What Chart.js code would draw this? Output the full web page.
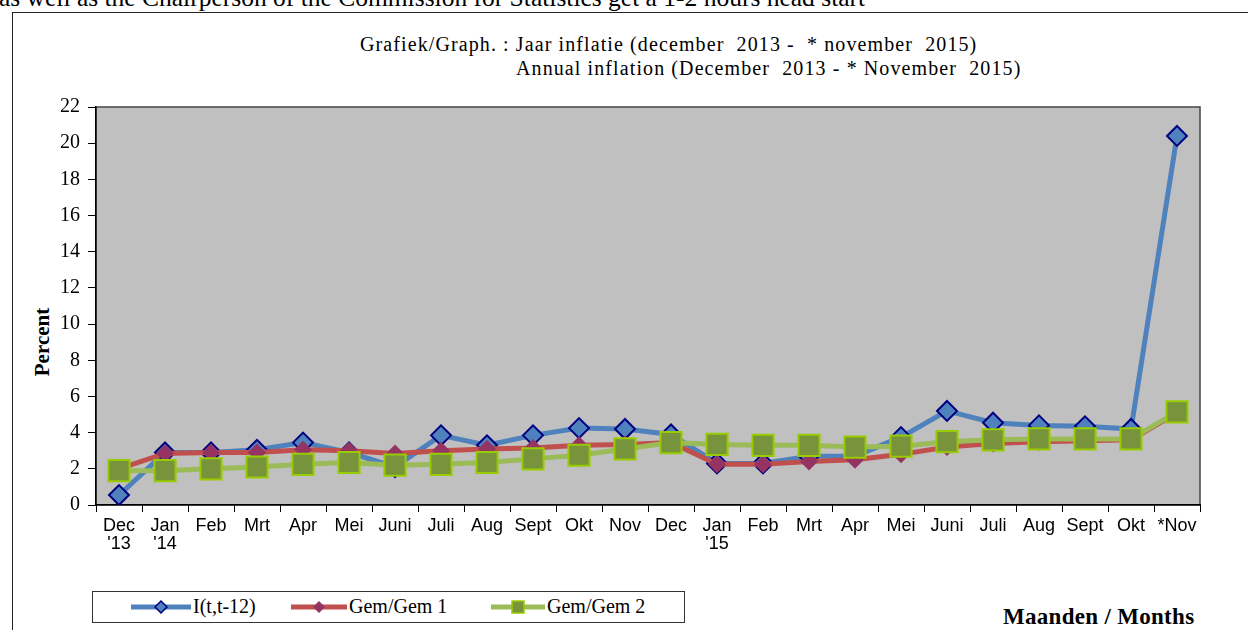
<!DOCTYPE html>
<html>
<head>
<meta charset="utf-8">
<script src="https://cdn.jsdelivr.net/npm/chart.js@4"></script>
<style>
  body { margin: 0; width: 1248px; height: 630px; overflow: hidden; background: #fff; position: relative; font-family: "Liberation Serif", serif; }
  #topline { position: absolute; left: -1px; top: -17px; font-size: 25.5px; white-space: nowrap; color: #000; }
  #frame { position: absolute; left: 12px; top: 12px; width: 1250px; height: 640px; border: 1.5px solid #222; }
  .title { position: absolute; font-size: 20px; letter-spacing: 1.1px; white-space: nowrap; color: #000; }
  #ylabel { position: absolute; left: 42px; top: 342px; transform: translate(-50%, -50%) rotate(-90deg); font-size: 21px; font-weight: bold; }
  #xlabel { position: absolute; left: 1003px; top: 604px; font-size: 23px; font-weight: bold; white-space: nowrap; letter-spacing: 0.3px; }
  #legend { position: absolute; left: 92px; top: 591px; width: 591px; height: 30px; border: 1px solid #333; background: #fff; }
  .item { position: absolute; top: 3px; font-size: 20px; white-space: nowrap; display: flex; align-items: center; }
  canvas { position: absolute; left: 0; top: 0; }
</style>
</head>
<body>
<div id="topline">as well as the Chairperson of the Commission for Statistics get a 1-2 hours head start</div>
<div id="frame"></div>
<div class="title" style="left:360px; top:33px;">Grafiek/Graph. : Jaar inflatie (december&nbsp; 2013 -&nbsp; * november&nbsp; 2015)</div>
<div class="title" style="left:516px; top:57px;">Annual inflation (December&nbsp; 2013 - * November&nbsp; 2015)</div>
<div id="ylabel">Percent</div>
<div id="xlabel">Maanden / Months</div>
<canvas id="chart" width="1248" height="630"></canvas>
<div id="legend">
  <div class="item" style="left:36px;">
    <svg width="64" height="20"><line x1="2" y1="10" x2="62" y2="10" stroke="#4F81BD" stroke-width="5"/><polygon points="32,4 38,10 32,16 26,10" fill="#4F81BD" stroke="#000080" stroke-width="1.5"/></svg>I(t,t-12)
  </div>
  <div class="item" style="left:196px;">
    <svg width="60" height="20"><line x1="2" y1="10" x2="58" y2="10" stroke="#C0504D" stroke-width="5"/><polygon points="30,4 36,10 30,16 24,10" fill="#953463"/></svg>Gem/Gem 1
  </div>
  <div class="item" style="left:396px;">
    <svg width="58" height="20"><line x1="2" y1="10" x2="56" y2="10" stroke="#9BBB59" stroke-width="5"/><rect x="23" y="4" width="12" height="12" fill="#77933C" stroke="#99CC00" stroke-width="1.5"/></svg>Gem/Gem 2
  </div>
</div>
<script>
const months = [['Dec', "'13"], ['Jan', "'14"], 'Feb', 'Mrt', 'Apr', 'Mei', 'Juni', 'Juli', 'Aug', 'Sept', 'Okt', 'Nov', 'Dec',
  ['Jan', "'15"], 'Feb', 'Mrt', 'Apr', 'Mei', 'Juni', 'Juli', 'Aug', 'Sept', 'Okt', '*Nov'];
const yTicks = [0, 2, 4, 6, 8, 10, 12, 14, 16, 18, 20, 22];

const inflation = [0.55, 2.9, 2.9, 3.05, 3.45, 2.9, 2.1, 3.85, 3.3, 3.85, 4.25, 4.2, 3.9,
  2.3, 2.3, 2.7, 2.7, 3.75, 5.2, 4.55, 4.4, 4.35, 4.2, 20.4];
const gemGem1 = [2.0, 2.85, 2.9, 2.9, 3.05, 3.0, 2.85, 3.0, 3.1, 3.15, 3.3, 3.35, 3.45,
  2.25, 2.25, 2.4, 2.5, 2.8, 3.2, 3.4, 3.5, 3.55, 3.6, 5.1];
const gemGem2 = [1.9, 1.9, 2.0, 2.1, 2.25, 2.35, 2.2, 2.25, 2.35, 2.55, 2.75, 3.1, 3.45,
  3.35, 3.3, 3.3, 3.2, 3.25, 3.5, 3.6, 3.65, 3.65, 3.65, 5.15];

// grey plot background + border
const plotBg = {
    id: 'plotBg',
    beforeDraw(chart) {
        const { ctx, chartArea: a } = chart;
        ctx.save();
        ctx.fillStyle = '#C0C0C0';
        ctx.fillRect(a.left, a.top, a.right - a.left, a.bottom - a.top);
        ctx.strokeStyle = '#444';
        ctx.lineWidth = 1.5;
        ctx.strokeRect(a.left, a.top, a.right - a.left, a.bottom - a.top);
        ctx.restore();
    }
};

new Chart(document.getElementById('chart').getContext('2d'), {
    type: 'line',
    data: {
        labels: months,
        datasets: [
            {
                label: 'I(t,t-12)',
                data: inflation,
                borderColor: '#4F81BD',
                borderWidth: 5,
                pointStyle: 'rectRot',
                pointRadius: 10,
                pointBackgroundColor: '#4F81BD',
                pointBorderColor: '#000080',
                pointBorderWidth: 2,
                tension: 0,
                order: 3
            },
            {
                label: 'Gem/Gem 1',
                data: gemGem1,
                borderColor: '#C0504D',
                borderWidth: 5,
                pointStyle: 'rectRot',
                pointRadius: 9,
                pointBackgroundColor: '#953463',
                pointBorderColor: '#953463',
                pointBorderWidth: 0,
                tension: 0,
                order: 2
            },
            {
                label: 'Gem/Gem 2',
                data: gemGem2,
                borderColor: '#9BBB59',
                borderWidth: 5,
                pointStyle: 'rect',
                pointRadius: 15,
                pointBackgroundColor: '#77933C',
                pointBorderColor: '#99CC00',
                pointBorderWidth: 2,
                tension: 0,
                order: 1
            }
        ]
    },
    options: {
        responsive: false,
        animation: false,
        layout: { padding: { left: 0, top: 107, right: 48, bottom: 70 } },
        plugins: { legend: { display: false }, tooltip: { enabled: false } },
        scales: {
            x: {
                offset: true,
                grid: { offset: true, drawOnChartArea: false, color: '#000', tickLength: 7 },
                border: { color: '#000', width: 1.5 },
                ticks: { color: '#000', font: { family: 'Liberation Sans', size: 18, lineHeight: 1.0 }, maxRotation: 0, autoSkip: false, padding: 5 },
                afterFit(scale) { scale.height = 55; }
            },
            y: {
                min: 0,
                max: 22,
                afterBuildTicks(scale) { scale.ticks = yTicks.map(v => ({ value: v })); },
                grid: { drawOnChartArea: false, color: '#000', tickLength: 8 },
                border: { color: '#000', width: 1.5 },
                ticks: { color: '#000', font: { family: 'Liberation Serif', size: 20 }, padding: 8 },
                afterFit(scale) { scale.width = 96; }
            }
        }
    },
    plugins: [plotBg]
});
</script>
</body>
</html>
